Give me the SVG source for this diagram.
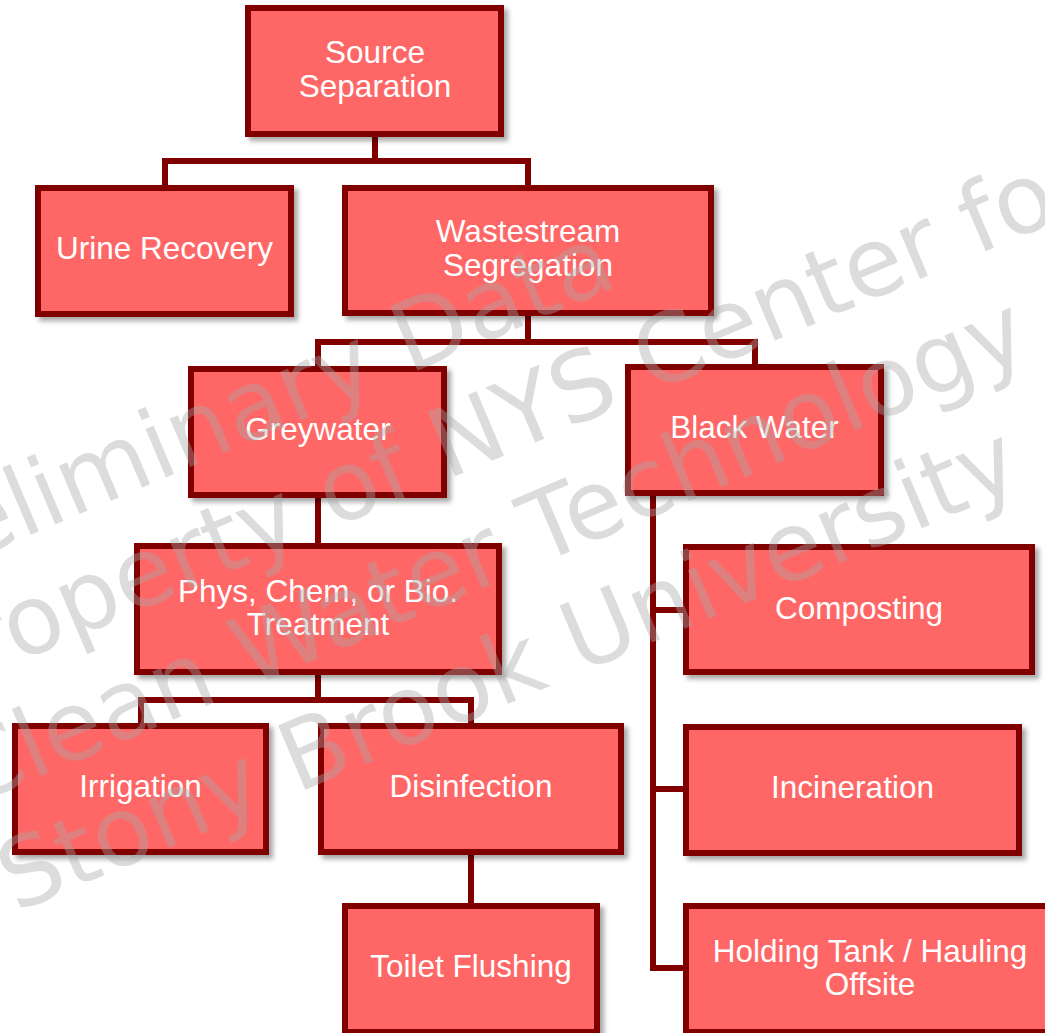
<svg xmlns="http://www.w3.org/2000/svg" width="1045" height="1033" viewBox="0 0 1045 1033">
  <defs>
    <filter id="shadow" x="-10%" y="-10%" width="130%" height="130%">
      <feDropShadow dx="4" dy="4" stdDeviation="2.5" flood-color="#000000" flood-opacity="0.35"/>
    </filter>
    <style>
      .box { fill: #FF6666; stroke: #800000; stroke-width: 6; filter: url(#shadow); }
      .label { fill: #FFFFFF; font-family: "Liberation Sans", Arial, sans-serif; font-size: 31.5px; text-anchor: middle; }
      .conn { fill: none; stroke: #800000; stroke-width: 6; stroke-linejoin: miter; }
      .wm { fill: #A8A8A8; fill-opacity: 0.4; font-family: "DejaVu Sans", Verdana, sans-serif; font-size: 96px; }
    </style>
  </defs>
  <rect width="1045" height="1033" fill="#FFFFFF"/>

  <g id="connectors">
    <path class="conn" d="M375 136 V161 M165 161 H528 M165 158 V188 M528 158 V188"/>
    <path class="conn" d="M528 316 V342 M318 342 H755 M318 339 V369 M755 339 V367"/>
    <path class="conn" d="M318 497 V546"/>
    <path class="conn" d="M318 675 V700 M141 700 H471 M141 697 V726 M471 697 V726"/>
    <path class="conn" d="M471 855 V906"/>
    <path class="conn" d="M653 496 V968 H686 M653 610 H686 M653 789 H686"/>
  </g>

  <g id="source-separation">
    <rect class="box" x="248" y="8" width="253" height="126"/>
    <text class="label" x="375" y="63">Source</text>
    <text class="label" x="375" y="97">Separation</text>
  </g>
  <g id="urine-recovery">
    <rect class="box" x="38" y="188" width="253" height="126"/>
    <text class="label" x="164.5" y="259">Urine Recovery</text>
  </g>
  <g id="wastestream-segregation">
    <rect class="box" x="345" y="188" width="366" height="125"/>
    <text class="label" x="528" y="242">Wastestream</text>
    <text class="label" x="528" y="276">Segregation</text>
  </g>
  <g id="greywater">
    <rect class="box" x="191" y="369" width="253" height="126"/>
    <text class="label" x="318" y="440">Greywater</text>
  </g>
  <g id="black-water">
    <rect class="box" x="628" y="367" width="253" height="126"/>
    <text class="label" x="754.5" y="438">Black Water</text>
  </g>
  <g id="treatment">
    <rect class="box" x="137" y="546" width="362" height="126"/>
    <text class="label" x="318" y="602">Phys, Chem, or Bio.</text>
    <text class="label" x="318" y="635">Treatment</text>
  </g>
  <g id="composting">
    <rect class="box" x="686" y="547" width="346" height="125"/>
    <text class="label" x="859" y="619">Composting</text>
  </g>
  <g id="irrigation">
    <rect class="box" x="15" y="726" width="251" height="126"/>
    <text class="label" x="140.5" y="797">Irrigation</text>
  </g>
  <g id="disinfection">
    <rect class="box" x="321" y="726" width="300" height="126"/>
    <text class="label" x="471" y="797">Disinfection</text>
  </g>
  <g id="incineration">
    <rect class="box" x="686" y="727" width="333" height="126"/>
    <text class="label" x="852.5" y="798">Incineration</text>
  </g>
  <g id="toilet-flushing">
    <rect class="box" x="345" y="906" width="252" height="126"/>
    <text class="label" x="471" y="977">Toilet Flushing</text>
  </g>
  <g id="holding-tank">
    <rect class="box" x="686" y="906" width="368" height="126"/>
    <text class="label" x="870" y="962">Holding Tank / Hauling</text>
    <text class="label" x="870" y="995">Offsite</text>
  </g>

  <g id="watermark" transform="translate(-118 598) rotate(-23)">
    <text class="wm" x="0" y="0">Preliminary Data</text>
    <text class="wm" x="6" y="112">Property of NYS Center for</text>
    <text class="wm" x="0" y="226">Clean Water Technology</text>
    <text class="wm" x="0" y="342">Stony Brook University</text>
  </g>
</svg>
